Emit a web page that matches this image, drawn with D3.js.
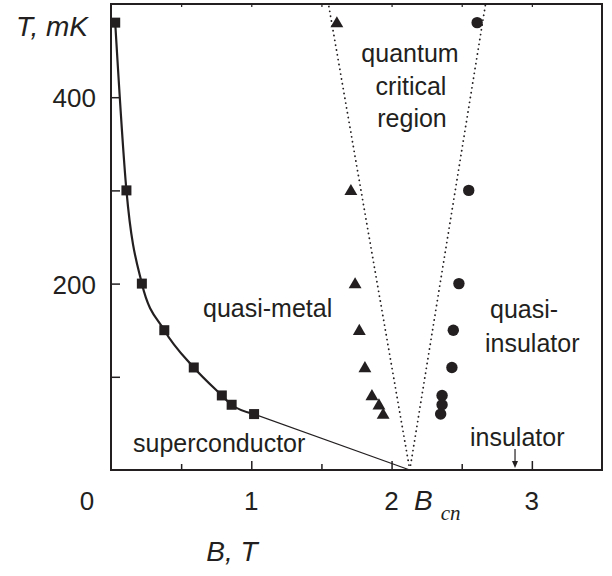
<!DOCTYPE html>
<html>
<head>
<meta charset="utf-8">
<script src="https://cdn.jsdelivr.net/npm/d3@7"></script>
<style>
    body { margin: 0; background: #fff; }
    svg text { font-family: "Liberation Sans", Arial, sans-serif; fill: #231f20; }
    .lbl { font-size: 25px; }
    .tick-lbl { font-size: 26px; }
    .ttl { font-size: 28px; font-style: italic; }
</style>
</head>
<body>
<svg id="chart" width="612" height="576"></svg>
<script>
/*-------------------------------------------------------*/
/*------------------------ Data -------------------------*/
/*-------------------------------------------------------*/
// temperatures shared by the three sets of points, mK
const T_mK = [480, 300, 200, 150, 110, 80, 70, 60];
// superconducting transition (squares), T
const B_sc = [0.03, 0.11, 0.22, 0.38, 0.59, 0.79, 0.86, 1.02];
// quasi-metal boundary (triangles), T
const B_qm = [1.61, 1.71, 1.74, 1.77, 1.81, 1.86, 1.91, 1.94];
// quasi-insulator boundary (circles), T
const B_qi = [2.61, 2.55, 2.48, 2.44, 2.43, 2.36, 2.36, 2.35];
// critical field and the crossover lines at the top of the plot
const Bcn = 2.13;
const crossTop = [1.55, 2.67];
const insulatorArrowB = 2.88;

const xMajor = [1, 2, 3];
const xMinor = [0.5, 1.5, 2.5];
const yMajor = [200, 400];
const yMinor = [100, 300];

/*-------------------------------------------------------*/
/*----------------------- Scales ------------------------*/
/*-------------------------------------------------------*/
const svg = d3.select("#chart");

let x = d3.scaleLinear().domain([0, 3.5]).range([111, 602]);
let y = d3.scaleLinear().domain([0, 500]).range([470, 4]);

const ink = "#231f20";

let sc = B_sc.map((b, i) => ({ b: b, t: T_mK[i] }));
let qm = B_qm.map((b, i) => ({ b: b, t: T_mK[i] }));
let qi = B_qi.map((b, i) => ({ b: b, t: T_mK[i] }));

/*-------------------------------------------------------*/
/*----------------------- Frame -------------------------*/
/*-------------------------------------------------------*/
svg.append("rect")
    .attr("x", x(0))
    .attr("y", y(500))
    .attr("width", x(3.5) - x(0))
    .attr("height", y(0) - y(500))
    .attr("fill", "none")
    .attr("stroke", ink)
    .attr("stroke-width", 2);

// bottom ticks point inwards
svg.append("g")
    .attr("transform", "translate(0," + y(0) + ")")
    .call(d3.axisBottom(x).tickValues(xMajor).tickSize(-9).tickFormat(""))
    .call(g => g.select(".domain").remove())
    .selectAll("line").attr("stroke", ink).attr("stroke-width", 1.5);

svg.append("g")
    .attr("transform", "translate(0," + y(0) + ")")
    .call(d3.axisBottom(x).tickValues(xMinor).tickSize(-6).tickFormat(""))
    .call(g => g.select(".domain").remove())
    .selectAll("line").attr("stroke", ink).attr("stroke-width", 1.5);

// top ticks
svg.append("g")
    .attr("transform", "translate(0," + y(500) + ")")
    .call(d3.axisTop(x).tickValues(xMajor.concat(xMinor)).tickSize(-3).tickFormat(""))
    .call(g => g.select(".domain").remove())
    .selectAll("line").attr("stroke", ink).attr("stroke-width", 1.2);

// left ticks
svg.append("g")
    .attr("transform", "translate(" + x(0) + ",0)")
    .call(d3.axisLeft(y).tickValues(yMajor.concat(yMinor)).tickSize(-9).tickFormat(""))
    .call(g => g.select(".domain").remove())
    .selectAll("line").attr("stroke", ink).attr("stroke-width", 1.5);

// tick labels
svg.selectAll(".xl")
    .data(xMajor)
    .enter()
    .append("text")
    .attr("class", "tick-lbl")
    .attr("x", d => x(d))
    .attr("y", 510)
    .attr("text-anchor", "middle")
    .text(d => d);

svg.selectAll(".yl")
    .data(yMajor)
    .enter()
    .append("text")
    .attr("class", "tick-lbl")
    .attr("x", 96)
    .attr("y", d => y(d) + 10)
    .attr("text-anchor", "end")
    .text(d => d);

svg.append("text")
    .attr("class", "tick-lbl")
    .attr("x", 87)
    .attr("y", 510)
    .attr("text-anchor", "middle")
    .text("0");

// axis titles
svg.append("text")
    .attr("class", "ttl")
    .attr("x", 52)
    .attr("y", 36)
    .attr("text-anchor", "middle")
    .text("T, mK");

svg.append("text")
    .attr("class", "ttl")
    .attr("x", 232)
    .attr("y", 561)
    .attr("text-anchor", "middle")
    .text("B, T");

let bcn = svg.append("text")
    .attr("x", 414)
    .attr("y", 510);
bcn.append("tspan")
    .attr("class", "ttl")
    .text("B");
bcn.append("tspan")
    .attr("dx", 8)
    .attr("dy", 10)
    .style("font-family", "'Liberation Serif', 'Times New Roman', serif")
    .style("font-style", "italic")
    .style("font-size", "21px")
    .text("cn");

/*-------------------------------------------------------*/
/*----------------------- Lines -------------------------*/
/*-------------------------------------------------------*/
let line = d3.line()
    .x(d => x(d.b))
    .y(d => y(d.t));

// crossover lines of the quantum critical region
crossTop.forEach(b => {
    svg.append("path")
        .datum([{ b: Bcn, t: 0 }, { b: b, t: 500 }])
        .attr("d", line)
        .attr("fill", "none")
        .attr("stroke", ink)
        .attr("stroke-width", 1.8)
        .attr("stroke-linecap", "round")
        .attr("stroke-dasharray", "0.1,4.8");
});

// extrapolation of the superconducting line down to Bcn
svg.append("path")
    .datum([sc[sc.length - 1], { b: Bcn, t: 0 }])
    .attr("d", line)
    .attr("fill", "none")
    .attr("stroke", ink)
    .attr("stroke-width", 1.1);

svg.append("path")
    .datum(sc)
    .attr("d", line.curve(d3.curveMonotoneX))
    .attr("fill", "none")
    .attr("stroke", ink)
    .attr("stroke-width", 2.2);

/*-------------------------------------------------------*/
/*----------------------- Marks -------------------------*/
/*-------------------------------------------------------*/
svg.selectAll(".sq")
    .data(sc)
    .enter()
    .append("rect")
    .attr("x", d => x(d.b) - 5)
    .attr("y", d => y(d.t) - 5)
    .attr("width", 10)
    .attr("height", 10)
    .attr("fill", ink);

svg.selectAll(".tri")
    .data(qm)
    .enter()
    .append("path")
    .attr("d", d3.symbol(d3.symbolTriangle, 72))
    .attr("transform", d => "translate(" + x(d.b) + "," + (y(d.t) + 1) + ")")
    .attr("fill", ink);

svg.selectAll(".dot")
    .data(qi)
    .enter()
    .append("circle")
    .attr("cx", d => x(d.b))
    .attr("cy", d => y(d.t))
    .attr("r", 5.7)
    .attr("fill", ink);

/*-------------------------------------------------------*/
/*-------------------- Region labels --------------------*/
/*-------------------------------------------------------*/
const labels = [
    { s: "quantum", x: 410, y: 62, a: "middle" },
    { s: "critical", x: 411, y: 95, a: "middle" },
    { s: "region", x: 412, y: 127, a: "middle" },
    { s: "quasi-metal", x: 203, y: 317, a: "start" },
    { s: "quasi-", x: 490, y: 318, a: "start" },
    { s: "insulator", x: 485, y: 352, a: "start" },
    { s: "superconductor", x: 133, y: 452, a: "start" },
    { s: "insulator", x: 470, y: 446, a: "start" }
];

svg.selectAll(".lbl")
    .data(labels)
    .enter()
    .append("text")
    .attr("class", "lbl")
    .attr("x", d => d.x)
    .attr("y", d => d.y)
    .attr("text-anchor", d => d.a)
    .text(d => d.s);

// small arrow under the lower "insulator"
let ax = x(insulatorArrowB);
svg.append("line")
    .attr("x1", ax).attr("x2", ax)
    .attr("y1", 449).attr("y2", 462)
    .attr("stroke", ink)
    .attr("stroke-width", 1.2);
svg.append("path")
    .attr("d", "M" + (ax - 3) + ",461L" + (ax + 3) + ",461L" + ax + ",468Z")
    .attr("fill", ink);
</script>
</body>
</html>
